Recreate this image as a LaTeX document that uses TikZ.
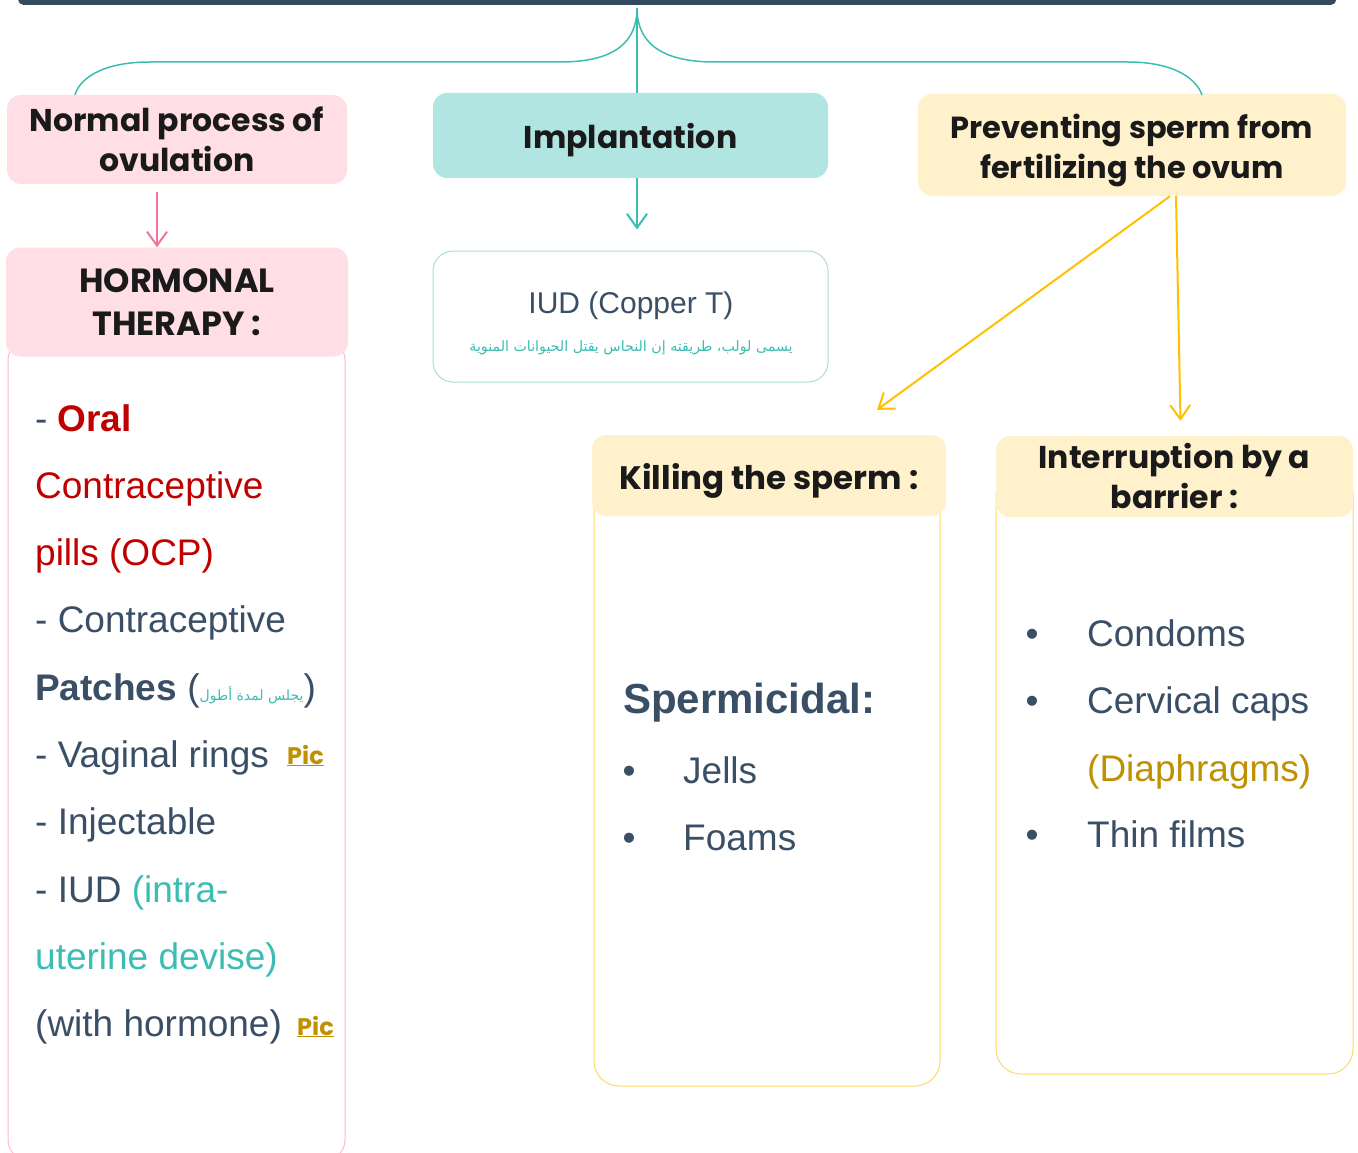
\documentclass[tikz,border=0pt]{standalone}
\usepackage{fontspec}
\setmainfont{Liberation Sans}
\newfontfamily\headfont{Poppins}
\newfontfamily\arabicfont[Script=Arabic]{DejaVu Sans}
\TeXXeTstate=1
\usetikzlibrary{arrows.meta}

\definecolor{barblue}{HTML}{34495E}
\definecolor{inkblue}{HTML}{3A4F66}
\definecolor{headink}{HTML}{1A1A1A}
\definecolor{ocpred}{HTML}{C00000}
\definecolor{tealink}{HTML}{3CBDB3}
\definecolor{tealfill}{HTML}{B0E5E2}
\definecolor{tealedge}{HTML}{A6DEDA}
\definecolor{pinkfill}{HTML}{FFDEE6}
\definecolor{pinkedge}{HTML}{FFB8CC}
\definecolor{pinkarrow}{HTML}{F4739A}
\definecolor{yelfill}{HTML}{FFF1CC}
\definecolor{yeledge}{HTML}{FFD966}
\definecolor{yelarrow}{HTML}{FFC000}
\definecolor{picgold}{HTML}{BF9000}

\begin{document}
\begin{tikzpicture}[x=1pt, y=-1pt,
        hdr/.style = {rounded corners=14pt, inner sep=0pt, align=center, text=headink, font=\headfont\bfseries\fontsize{31.5}{40}\selectfont},
        pinkhdr/.style = {hdr, fill=pinkfill},
        tealhdr/.style = {hdr, fill=tealfill},
        yelhdr/.style = {hdr, fill=yelfill},
        card/.style = {rounded corners=25pt, line width=1pt, inner sep=0pt, fill=white},
        item/.style = {anchor=base west, inner sep=0pt, text=inkblue, font=\fontsize{37}{44}\selectfont},
        bullet/.style = {anchor=base, inner sep=0pt, text=inkblue, font=\fontsize{37}{44}\selectfont},
        piclink/.style = {anchor=base west, inner sep=0pt, text=picgold, font=\headfont\bfseries\fontsize{24}{28}\selectfont},
        arrow/.style = {-{Straight Barb[length=14pt, width=20pt]}, line width=2pt}
    ]
        \useasboundingbox (0,0) rectangle (1358,1153);

        % title bar and the brace under it
        \node[fill=barblue, inner sep=0pt, minimum width=1318pt, minimum height=30pt, rounded corners=5pt, anchor=south west] (bar) at (18,5) {};
        \coordinate (top) at (637,8);
        \coordinate (bl) at (75,95);
        \coordinate (br) at (1202,95);

        % first row
        \node[pinkhdr, minimum width=340pt, minimum height=89pt] (normal) at (177,139.5) {Normal process of\\ovulation};
        \node[tealhdr, minimum width=395pt, minimum height=85pt] (impl) at (630.5,135.5) {};
        \node[headink, font=\headfont\bfseries\fontsize{31.5}{40}\selectfont] (impltext) at (630.5,140) {Implantation};
        \node[yelhdr, minimum width=428pt, minimum height=102pt] (prev) at (1132,145) {};
        \node[hdr, font=\headfont\bfseries\fontsize{30.5}{40}\selectfont] (prevtext) at (1132,150) {Preventing sperm from\\fertilizing the ovum};

        \draw[tealink, line width=1.5pt] (top) .. controls (637,42) and (615,62) .. (560,62) -- (150,62) .. controls (100,62) and (79,80) .. (bl);
        \draw[tealink, line width=1.5pt] (top) .. controls (637,42) and (660,62) .. (715,62) -- (1128,62) .. controls (1176,62) and (1197,80) .. (br);
        \draw[tealink, line width=1.5pt] (top) -- (top |- impl.north);

        % hormonal therapy column
        \node[card, draw=pinkedge, rounded corners=20pt, minimum width=337pt, minimum height=820pt] (hormbox) at (176.5,750) {};
        \node[pinkhdr, minimum width=342pt, minimum height=109pt, font=\headfont\bfseries\fontsize{33.5}{43}\selectfont] (hormhdr) at (177,302) {HORMONAL\\THERAPY :};
        \draw[arrow, pinkarrow, shorten <=8pt] ([xshift=-20pt]normal.south) -- ([xshift=-20pt]hormhdr.north);

        \node[item] (h1) at (35,431) {- {\bfseries\color{ocpred}Oral}};
        \node[item, text=ocpred] (h2) at (35,498.3) {Contraceptive};
        \node[item, text=ocpred] (h3) at (35,565.6) {pills (OCP)};
        \node[item] (h4) at (35,632.9) {- Contraceptive};
        \node[item] (h5) at (35,700.2) {{\bfseries Patches} ({\arabicfont\fontsize{14}{18}\selectfont\color{tealink}\beginR يجلس لمدة أطول\endR})};
        \node[item] (h6) at (35,767.5) {- Vaginal rings};
        \node[item] (h7) at (35,834.8) {- Injectable};
        \node[item] (h8) at (35,902.1) {- IUD {\color{tealink}(intra-}};
        \node[item, text=tealink] (h9) at (35,969.4) {uterine devise)};
        \node[item] (h10) at (35,1036.7) {(with hormone)};
        \node[piclink] (pic1) at (287,764) {\underline{Pic}};
        \node[piclink] (pic2) at (297,1035) {\underline{Pic}};

        % copper IUD
        \node[card, draw=tealedge, rounded corners=20pt, minimum width=395pt, minimum height=131pt] (iud) at (630.5,316.5) {};
        \draw[arrow, tealink, shorten >=21pt] (top |- impl.south) -- (top |- iud.north);
        \node[inner sep=0pt, text=inkblue, font=\fontsize{30}{36}\selectfont] (iudname) at (631,306) {IUD (Copper T)};
        \node[inner sep=0pt, text=tealink, font=\arabicfont\fontsize{14.2}{18}\selectfont] (iudnote) at (631,348) {\beginR يسمى لولب، طريقته إن النحاس يقتل الحيوانات المنوية\endR};

        % killing the sperm
        \node[card, draw=yeledge, minimum width=346pt, minimum height=616pt] (killbox) at (767,778) {};
        \node[yelhdr, minimum width=354pt, minimum height=81pt] (kill) at (769,475.5) {};
        \node[hdr, font=\headfont\bfseries\fontsize{32.5}{40}\selectfont] (killtext) at (769,480.5) {Killing the sperm :};
        \node[item, font=\bfseries\fontsize{42}{50}\selectfont] (sperm) at (623,713) {Spermicidal:};
        \node[bullet] (d1) at (629,783) {•};
        \node[item] (jells) at (683,783) {Jells};
        \node[bullet] (d2) at (629,850) {•};
        \node[item] (foams) at (683,850) {Foams};

        % barrier
        \node[card, draw=yeledge, minimum width=357pt, minimum height=604pt] (interbox) at (1174.5,772) {};
        \node[yelhdr, minimum width=357pt, minimum height=81pt] (inter) at (1174.5,476.5) {Interruption by a\\barrier :};
        \node[bullet] (d3) at (1032,646) {•};
        \node[item] (condoms) at (1087,646) {Condoms};
        \node[bullet] (d4) at (1032,713) {•};
        \node[item] (caps) at (1087,713) {Cervical caps};
        \node[item, text=picgold] (diaph) at (1087,781) {(Diaphragms)};
        \node[bullet] (d5) at (1032,847) {•};
        \node[item] (films) at (1087,847) {Thin films};

        \draw[arrow, yelarrow] ([xshift=38pt]prev.south) -- ([xshift=108pt,yshift=25pt]kill.north);
        \draw[arrow, yelarrow] ([xshift=44pt]prev.south) -- ([xshift=6pt,yshift=15pt]inter.north);
    \end{tikzpicture}
\end{document}
